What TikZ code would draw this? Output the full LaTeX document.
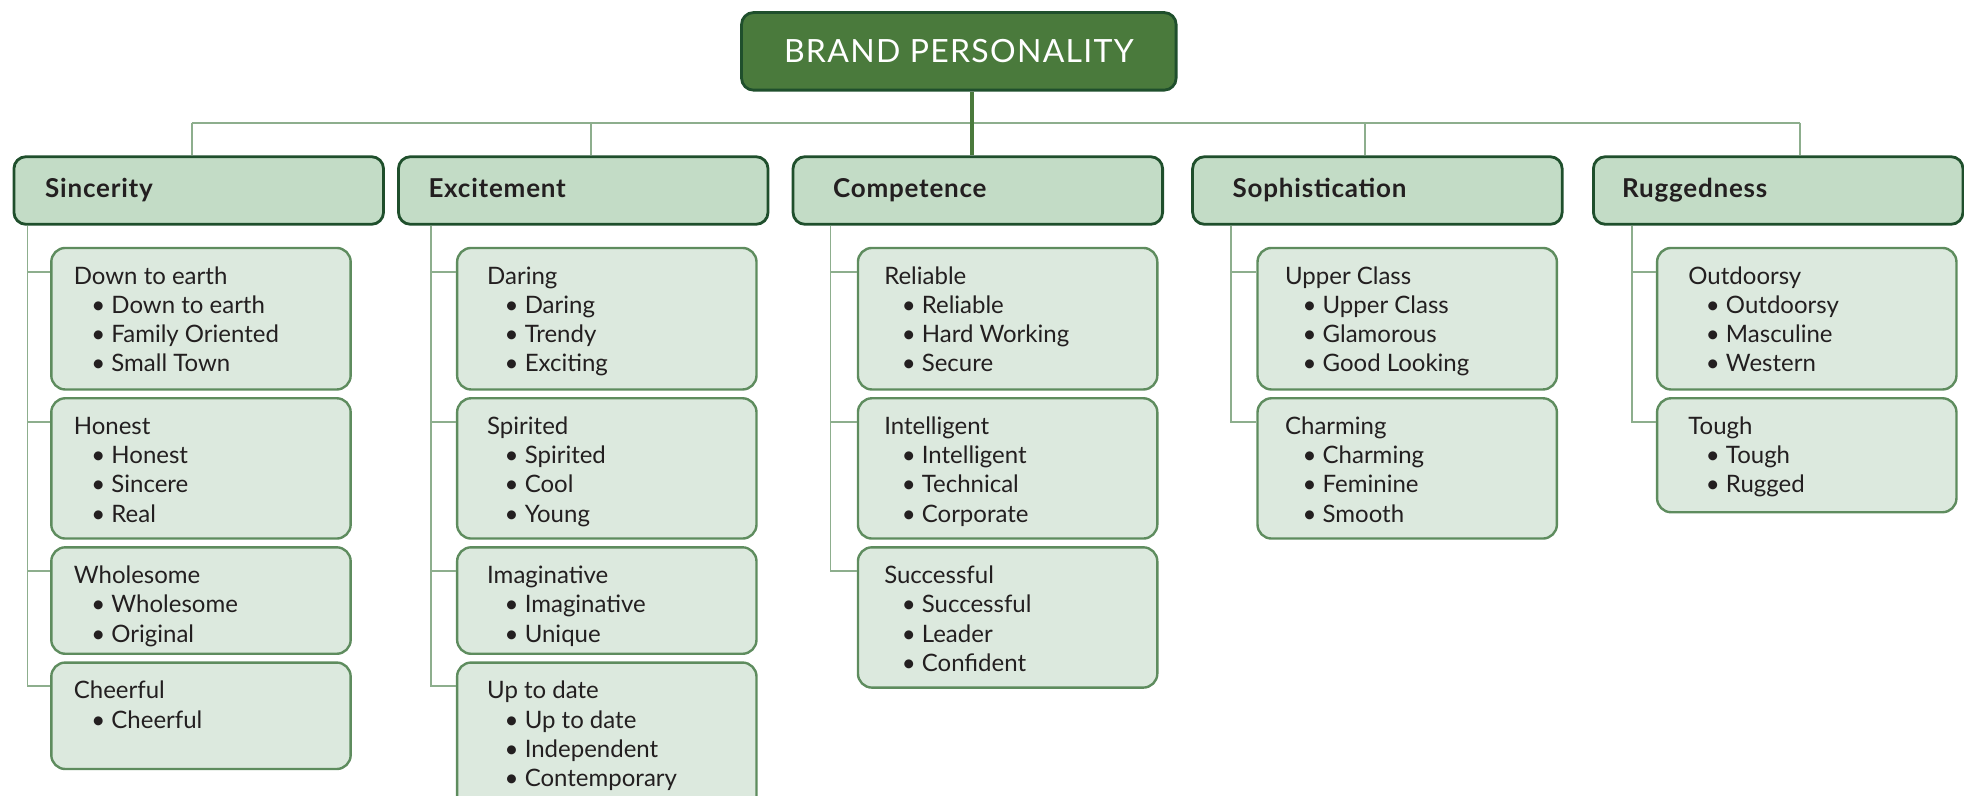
\documentclass[tikz,border=0pt]{standalone}
\usepackage{fontspec}
\setmainfont{Lato}
\newfontfamily\headfont{Lato}[LetterSpace=3]
\newfontfamily\topfont{Lato}[LetterSpace=4]
\usetikzlibrary{positioning}

\definecolor{leaf}{HTML}{4A7A3C}
\definecolor{darkleaf}{HTML}{1F4F2C}
\definecolor{sage}{HTML}{C3DCC6}
\definecolor{mint}{HTML}{DCE9DE}
\definecolor{moss}{HTML}{5E8C5E}
\definecolor{twig}{HTML}{8DAE8D}
\definecolor{ink}{HTML}{231F20}

% one pixel of the layout grid
\newdimen\pxu \pxu=0.6263pt
\newdimen\facetind
% title line and bullet lines of a facet box
\newcommand\ftitle[1]{\rule{0pt}{29\pxu}\hspace*{\facetind}#1}
\newcommand\itm[1]{\par\hspace*{\facetind}\hspace*{14\pxu}\makebox[16\pxu][l]{\textbullet}#1}
% name, x, y, height, indent, content
\newcommand\facet[6]{%
  \node[facetbox] (#1) at (#2,#3)
    {\parbox[t][#4\pxu][t]{239\pxu}{\setlength\facetind{#5\pxu}#6}};
  \coordinate (#1-stub) at ([yshift=-12.5pt]#1.north west);
}

\begin{document}
\begin{tikzpicture}
    [x=0.6263pt, y=-0.6263pt, text=ink,
    font=\fontsize{12}{14.6}\selectfont,
    % STYLES
    % the root box
    top/.style={rectangle, rounded corners=6pt, draw=darkleaf, line width=1.4pt, fill=leaf, text=white, minimum width=217.3pt, minimum height=38.8pt, font=\topfont\fontsize{16}{18}\selectfont},
    % the five dimensions
    cat/.style={rectangle, rounded corners=6pt, draw=darkleaf, line width=1.4pt, fill=sage, minimum width=184.8pt, minimum height=33.8pt, text width=184.8pt, text height=9.5pt, text depth=2.5pt, inner xsep=0pt, align=left, anchor=north west, font=\headfont\bfseries\fontsize{13}{15}\selectfont},
    % the facets under a dimension
    facetbox/.style={rectangle, rounded corners=7pt, draw=moss, line width=1.2pt, fill=mint, inner sep=0pt, anchor=north west},
    bus/.style={draw=twig, line width=0.9pt},
    branch/.style={draw=twig, line width=0.9pt},
    trunk/.style={draw=leaf, line width=1.6pt}]

    \useasboundingbox (0,0) rectangle (1568,635);

    % Root
    \node [top] (brand) at (765.5,41) {BRAND PERSONALITY};

    % Dimensions
    \node [cat] (sinc) at (10,124) {\hspace*{25\pxu}Sincerity};
    \node [cat] (exc) at (317,124) {\hspace*{24\pxu}Excitement};
    \node [cat] (comp) at (632,124) {\hspace*{32\pxu}Competence};
    \node [cat] (soph) at (951,124) {\hspace*{32\pxu}Sophistication};
    \node [cat] (rugg) at (1271,124) {\hspace*{23\pxu}Ruggedness};

    %%%%%%%%%%%%%%%
    % Facets
    \facet{sinc-1}{40}{197}{113}{18}{\ftitle{Down to earth}\itm{Down to earth}\itm{Family Oriented}\itm{Small Town}}
    \facet{sinc-2}{40}{317}{112}{18}{\ftitle{Honest}\itm{Honest}\itm{Sincere}\itm{Real}}
    \facet{sinc-3}{40}{436}{85}{18}{\ftitle{Wholesome}\itm{Wholesome}\itm{Original}}
    \facet{sinc-4}{40}{528}{85}{18}{\ftitle{Cheerful}\itm{Cheerful}}

    \facet{exc-1}{364}{197}{113}{24}{\ftitle{Daring}\itm{Daring}\itm{Trendy}\itm{Exciting}}
    \facet{exc-2}{364}{317}{112}{24}{\ftitle{Spirited}\itm{Spirited}\itm{Cool}\itm{Young}}
    \facet{exc-3}{364}{436}{85}{24}{\ftitle{Imaginative}\itm{Imaginative}\itm{Unique}}
    \facet{exc-4}{364}{528}{125}{24}{\ftitle{Up to date}\itm{Up to date}\itm{Independent}\itm{Contemporary}}

    \facet{comp-1}{684}{197}{113}{21}{\ftitle{Reliable}\itm{Reliable}\itm{Hard Working}\itm{Secure}}
    \facet{comp-2}{684}{317}{112}{21}{\ftitle{Intelligent}\itm{Intelligent}\itm{Technical}\itm{Corporate}}
    \facet{comp-3}{684}{436}{112}{21}{\ftitle{Successful}\itm{Successful}\itm{Leader}\itm{Confident}}

    \facet{soph-1}{1003}{197}{113}{22}{\ftitle{Upper Class}\itm{Upper Class}\itm{Glamorous}\itm{Good Looking}}
    \facet{soph-2}{1003}{317}{112}{22}{\ftitle{Charming}\itm{Charming}\itm{Feminine}\itm{Smooth}}

    \facet{rugg-1}{1322}{197}{113}{25}{\ftitle{Outdoorsy}\itm{Outdoorsy}\itm{Masculine}\itm{Western}}
    \facet{rugg-2}{1322}{317}{91}{25}{\ftitle{Tough}\itm{Tough}\itm{Rugged}}

    %%%%%%%%%%%%%%%%
    % Links from the root
    \coordinate (drop-sinc) at (153,98);
    \coordinate (drop-exc) at (472,98);
    \coordinate (drop-comp) at (776,98);
    \coordinate (drop-soph) at (1090,98);
    \coordinate (drop-rugg) at (1437,98);
    \draw[bus] (drop-sinc) -- (drop-rugg);
    \foreach \c in {sinc,exc,soph,rugg}
        \draw[bus] (drop-\c) -- (\c.north -| drop-\c);
    \draw[trunk] (brand.south -| drop-comp) -- (comp.north -| drop-comp);

    % Links from each dimension to its facets
    \coordinate (sinc-line) at ([xshift=7.5pt]sinc.south west);
    \coordinate (exc-line) at ([xshift=16.9pt]exc.south west);
    \coordinate (comp-line) at ([xshift=19.4pt]comp.south west);
    \coordinate (soph-line) at ([xshift=20pt]soph.south west);
    \coordinate (rugg-line) at ([xshift=20pt]rugg.south west);
    \foreach \c/\n in {sinc/4,exc/4,comp/3,soph/2,rugg/2} {
        \draw[branch] (\c-line) |- (\c-\n-stub);
        \foreach \i in {1,...,\n}
            \draw[branch] (\c-line |- \c-\i-stub) -- (\c-\i-stub);
    }
\end{tikzpicture}
\end{document}
